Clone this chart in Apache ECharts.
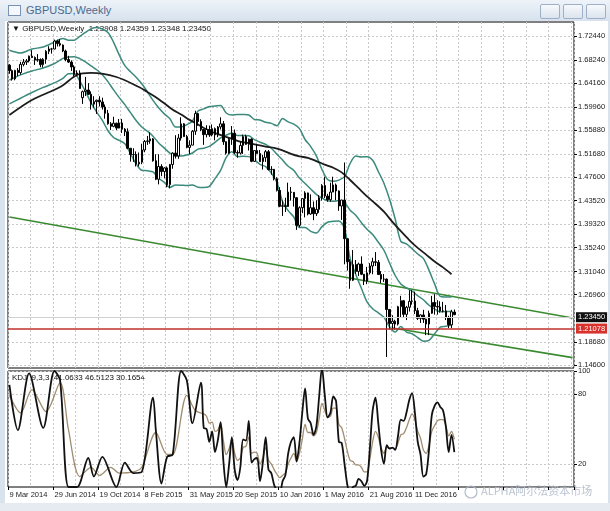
<!DOCTYPE html>
<html><head><meta charset="utf-8">
<script src="https://cdn.jsdelivr.net/npm/echarts@6/dist/echarts.min.js"></script>
<style>
html,body{margin:0;padding:0;width:610px;height:511px;overflow:hidden;background:#d9e3ee;font-family:"Liberation Sans",Arial,sans-serif;}
#titlebar{position:absolute;left:0;top:0;width:610px;height:21px;background:linear-gradient(#eef3f9,#d7e2ee);}
#ttl{position:absolute;left:26px;top:4px;font-size:11px;color:#4a6a90;}
#icon{position:absolute;left:8px;top:5px;width:11px;height:9px;border:1px solid #7a93b3;background:#f4f7fb;}
.btn{position:absolute;top:4px;width:18px;height:13px;border:1px solid #9fb0c6;border-radius:2px;background:linear-gradient(#f7f9fc,#dbe4ee);}
#area{position:absolute;left:5px;top:21px;width:603px;height:482px;background:#fff;}
#bottom{position:absolute;left:0;top:503px;width:610px;height:8px;background:#e6ebf1;}
#chart{position:absolute;left:0;top:0;width:610px;height:511px;}
</style></head><body>
<div id="titlebar"><div id="icon"></div><div id="ttl">GBPUSD,Weekly</div>
<div class="btn" style="left:540px"></div><div class="btn" style="left:563px"></div><div class="btn" style="left:586px"></div></div>
<div id="area"></div><div id="bottom"></div>
<div id="chart"></div>
<script>
// ---------- data ----------
const weekCount = 201; // weekly slots on the axis (candles + empty space to the right)
const dateTickLabels = ['9 Mar 2014','29 Jun 2014','19 Oct 2014','8 Feb 2015','31 May 2015','20 Sep 2015','10 Jan 2016','1 May 2016','21 Aug 2016','11 Dec 2016'];
const priceTicks = [1.72440,1.68240,1.64160,1.59960,1.55880,1.51680,1.47600,1.43520,1.39320,1.35240,1.31040,1.26960,1.18680,1.14600];
const kdjTicks = [100,80,20];
// weekly candles: [open, high, low, close]
const weeklyOHLC = [
[1.6730,1.6750,1.6580,1.6635],[1.6635,1.6655,1.6460,1.6490],[1.6490,1.6650,1.6465,1.6640],[1.6640,1.6680,1.6540,1.6600],
[1.6600,1.6790,1.6565,1.6745],[1.6745,1.6840,1.6710,1.6785],[1.6785,1.6840,1.6735,1.6805],[1.6805,1.6900,1.6780,1.6890],
[1.6890,1.6995,1.6860,1.6865],[1.6865,1.6885,1.6735,1.6820],[1.6820,1.6925,1.6790,1.6830],[1.6830,1.6850,1.6695,1.6740],
[1.6740,1.6855,1.6690,1.6835],[1.6835,1.6995,1.6755,1.6975],[1.6975,1.7065,1.6925,1.7015],[1.7015,1.7035,1.6935,1.7015],
[1.7015,1.7180,1.7010,1.7155],[1.7155,1.7180,1.7060,1.7110],[1.7110,1.7190,1.7060,1.7085],[1.7085,1.7095,1.6960,1.6980],
[1.6980,1.7005,1.6800,1.6830],[1.6830,1.6895,1.6770,1.6785],[1.6785,1.6815,1.6630,1.6700],[1.6700,1.6730,1.6535,1.6565],
[1.6565,1.6640,1.6535,1.6595],[1.6595,1.6640,1.6320,1.6320],[1.6160,1.6285,1.6050,1.6265],[1.6265,1.6525,1.6190,1.6295],
[1.6295,1.6415,1.6205,1.6220],[1.6220,1.6270,1.5950,1.6045],[1.6045,1.6185,1.5985,1.6090],[1.6090,1.6125,1.5875,1.6115],
[1.6115,1.6185,1.6005,1.6085],[1.6085,1.6160,1.5950,1.5995],[1.5995,1.6040,1.5790,1.5885],[1.5885,1.5945,1.5685,1.5700],
[1.5700,1.5730,1.5590,1.5655],[1.5655,1.5825,1.5640,1.5710],[1.5710,1.5720,1.5590,1.5625],[1.5625,1.5785,1.5620,1.5715],
[1.5715,1.5785,1.5540,1.5605],[1.5605,1.5625,1.5485,1.5560],[1.5560,1.5620,1.5255,1.5270],[1.5270,1.5275,1.5035,1.5160],
[1.5160,1.5270,1.5030,1.5160],[1.5160,1.5215,1.4950,1.4995],[1.4995,1.5195,1.4950,1.5025],[1.5025,1.5350,1.4990,1.5240],
[1.5240,1.5415,1.5200,1.5390],[1.5390,1.5485,1.5330,1.5400],[1.5400,1.5550,1.5350,1.5435],[1.5435,1.5450,1.5035,1.5050],
[1.5050,1.5165,1.4710,1.4725],[1.4725,1.5165,1.4635,1.4950],[1.4950,1.4990,1.4780,1.4860],[1.4860,1.4935,1.4740,1.4925],
[1.4925,1.4950,1.4585,1.4630],[1.4630,1.4995,1.4565,1.4985],[1.4985,1.5200,1.4910,1.5185],[1.5185,1.5500,1.5090,1.5135],
[1.5135,1.5520,1.5085,1.5450],[1.5450,1.5815,1.5405,1.5700],[1.5700,1.5710,1.5470,1.5475],[1.5475,1.5505,1.5270,1.5285],
[1.5285,1.5410,1.5170,1.5325],[1.5325,1.5590,1.5325,1.5570],[1.5570,1.5930,1.5505,1.5880],[1.5880,1.5890,1.5665,1.5740],
[1.5740,1.5780,1.5570,1.5600],[1.5600,1.5605,1.5330,1.5510],[1.5510,1.5675,1.5460,1.5600],[1.5600,1.5670,1.5470,1.5505],
[1.5505,1.5690,1.5480,1.5615],[1.5615,1.5635,1.5410,1.5505],[1.5505,1.5660,1.5465,1.5645],[1.5645,1.5815,1.5600,1.5700],
[1.5700,1.5750,1.5330,1.5385],[1.5385,1.5390,1.5160,1.5185],[1.5185,1.5450,1.5170,1.5430],[1.5430,1.5660,1.5330,1.5535],
[1.5535,1.5600,1.5170,1.5195],[1.5195,1.5235,1.5105,1.5185],[1.5185,1.5385,1.5160,1.5320],[1.5320,1.5510,1.5170,1.5475],
[1.5475,1.5510,1.5330,1.5340],[1.5340,1.5440,1.5230,1.5430],[1.5430,1.5445,1.5025,1.5040],[1.5040,1.5235,1.5030,1.5230],
[1.5230,1.5335,1.5170,1.5180],[1.5180,1.5240,1.5030,1.5035],[1.5035,1.5155,1.4895,1.5105],[1.5105,1.5240,1.5030,1.5210],
[1.5210,1.5240,1.4880,1.4895],[1.4895,1.4955,1.4805,1.4900],[1.4900,1.4905,1.4705,1.4735],[1.4735,1.4760,1.4510,1.4530],
[1.4530,1.4585,1.4235,1.4250],[1.4250,1.4350,1.4080,1.4260],[1.4260,1.4400,1.4150,1.4245],[1.4245,1.4665,1.4240,1.4500],
[1.4500,1.4590,1.4350,1.4495],[1.4495,1.4500,1.4245,1.4400],[1.4400,1.4410,1.3835,1.3915],[1.3915,1.4250,1.3880,1.4225],
[1.4225,1.4385,1.4130,1.4385],[1.4385,1.4515,1.4055,1.4485],[1.4485,1.4490,1.4090,1.4115],[1.4115,1.4460,1.4100,1.4225],
[1.4225,1.4335,1.4005,1.4120],[1.4120,1.4355,1.4080,1.4195],[1.4195,1.4445,1.4135,1.4400],[1.4400,1.4640,1.4350,1.4615],
[1.4615,1.4770,1.4395,1.4430],[1.4430,1.4470,1.4330,1.4365],[1.4365,1.4665,1.4330,1.4500],[1.4500,1.4770,1.4500,1.4625],
[1.4625,1.4650,1.4355,1.4520],[1.4520,1.4530,1.4170,1.4255],[1.4255,1.4365,1.4010,1.4360],[1.4360,1.5020,1.3230,1.3680],
[1.3680,1.3680,1.3120,1.3275],[1.3275,1.3320,1.2800,1.2950],[1.2950,1.3480,1.2935,1.3225],[1.3225,1.3305,1.3060,1.3105],
[1.3105,1.3260,1.3025,1.3235],[1.3235,1.3370,1.3040,1.3055],[1.3055,1.3060,1.2865,1.2935],[1.2935,1.3185,1.2880,1.3080],
[1.3080,1.3250,1.3050,1.3200],[1.3200,1.3345,1.3055,1.3275],[1.3275,1.3445,1.3200,1.3265],[1.3265,1.3305,1.3050,1.3050],
[1.3050,1.3110,1.2900,1.2970],[1.2970,1.3060,1.2920,1.2970],[1.2970,1.2980,1.1600,1.2435],[1.2435,1.2445,1.2085,1.2190],
[1.2190,1.2335,1.2080,1.2230],[1.2230,1.2255,1.2080,1.2180],[1.2180,1.2500,1.2155,1.2485],[1.2485,1.2675,1.2300,1.2590],
[1.2590,1.2600,1.2300,1.2350],[1.2350,1.2500,1.2250,1.2475],[1.2475,1.2775,1.2400,1.2580],[1.2580,1.2775,1.2520,1.2585],
[1.2585,1.2750,1.2355,1.2415],[1.2415,1.2465,1.2250,1.2280],[1.2280,1.2350,1.2200,1.2340],[1.2340,1.2430,1.2200,1.2265],
[1.2265,1.2275,1.1985,1.2180],[1.2180,1.2415,1.1985,1.2370],[1.2370,1.2675,1.2360,1.2560],[1.2560,1.2705,1.2345,1.2490],
[1.2490,1.2600,1.2345,1.2480],[1.2480,1.2580,1.2380,1.2410],[1.2410,1.2570,1.2385,1.2410],[1.2410,1.2515,1.2250,1.2295],
[1.2295,1.2325,1.2110,1.2165],[1.2165,1.2430,1.2110,1.2395],[1.2391,1.2436,1.2335,1.2345]
];
// indicator lines as [week index, value]
const bandUpper = [[0,1.6994],[4,1.6945],[8,1.7015],[12,1.7050],[16,1.7138],[19,1.7202],[21,1.7170],[23,1.7170],[25,1.7239],[27,1.7308],[29,1.7369],[31,1.7394],[33,1.7367],[35,1.7304],[37,1.7133],[39,1.6911],[41,1.6723],[43,1.6615],[45,1.6518],[47,1.6403],[49,1.6263],[51,1.6112],[53,1.5982],[55,1.5875],[57,1.5789],[59,1.5644],[61,1.5646],[63,1.5685],[65,1.5750],[67,1.5926],[69,1.5962],[71,1.6003],[73,1.6012],[75,1.6023],[77,1.5891],[79,1.5854],[81,1.5865],[83,1.5863],[85,1.5855],[87,1.5776],[89,1.5766],[91,1.5728],[93,1.5708],[95,1.5667],[97,1.5793],[99,1.5733],[101,1.5695],[103,1.5616],[105,1.5424],[107,1.5300],[109,1.5137],[111,1.4897],[113,1.4720],[115,1.4690],[117,1.4710],[119,1.4771],[121,1.5004],[123,1.5133],[125,1.5117],[127,1.5122],[129,1.5059],[131,1.4862],[133,1.4655],[135,1.4375],[137,1.4026],[139,1.3634],[141,1.3591],[143,1.3505],[145,1.3411],[147,1.3335],[149,1.3127],[151,1.2886],[153,1.2665],[155,1.2656],[157,1.2655]];
const bandMiddle = [[0,1.6470],[4,1.6560],[8,1.6630],[12,1.6680],[16,1.6760],[19,1.6851],[21,1.6875],[23,1.6877],[25,1.6846],[27,1.6789],[29,1.6718],[31,1.6650],[33,1.6563],[35,1.6441],[37,1.6296],[39,1.6160],[41,1.6037],[43,1.5896],[45,1.5758],[47,1.5643],[49,1.5569],[51,1.5483],[53,1.5363],[55,1.5273],[57,1.5185],[59,1.5134],[61,1.5134],[63,1.5150],[65,1.5187],[67,1.5255],[69,1.5271],[71,1.5302],[73,1.5374],[75,1.5452],[77,1.5500],[79,1.5532],[81,1.5494],[83,1.5495],[85,1.5489],[87,1.5421],[89,1.5377],[91,1.5337],[93,1.5271],[95,1.5167],[97,1.5064],[99,1.4953],[101,1.4879],[103,1.4746],[105,1.4651],[107,1.4555],[109,1.4460],[111,1.4395],[113,1.4345],[115,1.4337],[117,1.4351],[119,1.4315],[121,1.4182],[123,1.4091],[125,1.3962],[127,1.3846],[129,1.3754],[131,1.3619],[133,1.3477],[135,1.3252],[137,1.3033],[139,1.2885],[141,1.2815],[143,1.2757],[145,1.2677],[147,1.2607],[149,1.2510],[151,1.2447],[153,1.2395],[155,1.2399],[157,1.2406]];
const bandLower = [[0,1.6050],[4,1.6150],[8,1.6250],[12,1.6340],[16,1.6420],[19,1.6499],[21,1.6581],[23,1.6583],[25,1.6452],[27,1.6270],[29,1.6067],[31,1.5906],[33,1.5760],[35,1.5578],[37,1.5459],[39,1.5408],[41,1.5351],[43,1.5176],[45,1.4997],[47,1.4883],[49,1.4875],[51,1.4854],[53,1.4743],[55,1.4670],[57,1.4582],[59,1.4625],[61,1.4621],[63,1.4615],[65,1.4624],[67,1.4584],[69,1.4579],[71,1.4600],[73,1.4736],[75,1.4881],[77,1.5108],[79,1.5210],[81,1.5122],[83,1.5128],[85,1.5123],[87,1.5067],[89,1.4987],[91,1.4947],[93,1.4834],[95,1.4667],[97,1.4335],[99,1.4173],[101,1.4062],[103,1.3876],[105,1.3878],[107,1.3809],[109,1.3782],[111,1.3892],[113,1.3969],[115,1.3985],[117,1.3992],[119,1.3860],[121,1.3335],[123,1.3050],[125,1.2808],[127,1.2571],[129,1.2450],[131,1.2376],[133,1.2298],[135,1.2128],[137,1.2040],[139,1.2136],[141,1.2039],[143,1.2009],[145,1.1943],[147,1.1878],[149,1.1893],[151,1.2008],[153,1.2124],[155,1.2141],[157,1.2157]];
const maSlow = [[0,1.5855],[8,1.6119],[18,1.6347],[24,1.6558],[29,1.6594],[38,1.6523],[46,1.6347],[49,1.6260],[52,1.6169],[55,1.6061],[58,1.5946],[61,1.5864],[64,1.5769],[67,1.5687],[70,1.5604],[73,1.5535],[76,1.5486],[79,1.5438],[82,1.5386],[85,1.5360],[88,1.5329],[91,1.5298],[94,1.5277],[97,1.5233],[100,1.5173],[103,1.5129],[106,1.5101],[109,1.5045],[112,1.4982],[115,1.4928],[118,1.4846],[121,1.4712],[124,1.4568],[127,1.4424],[130,1.4295],[133,1.4156],[136,1.3977],[139,1.3813],[142,1.3657],[145,1.3519],[148,1.3400],[151,1.3280],[154,1.3176],[157,1.3056]];
const channelUpper = [[0,1.4062],[200,1.2286]];
const channelLower = [[136,1.2110],[200,1.1590]];
const supportLevel = 1.21078;
const lastPrice = 1.23450;
const kdjJ = [[0,88],[3,49],[7,98],[12,51],[16,100],[18,92],[21,0],[24,0],[28,25],[30,9],[33,26],[38,0],[41,21],[44,12],[47,13],[51,77],[52,49],[54,3],[56,26],[58,28],[61,100],[63,92],[65,55],[68,90],
[69,51],[70,50],[71,39],[72,48],[73,30],[74,40],[75,56],[76,22],[77,0],[78,19],[79,43],[80,15],[81,6],[82,17],[83,41],[84,40],[85,57],[86,21],[87,24],[88,25],[89,5],[90,21],[91,43],[92,15],[93,12],[94,2],[95,-3],[96,-6],[97,5],[98,10],[99,29],[100,39],[101,43],[102,22],[103,38],[104,64],[105,85],[106,59],[107,55],[108,45],[109,52],[110,78],[111,103],[112,79],[113,60],[114,64],[115,78],[116,74],[117,39],[118,38],[119,20],[120,2],[121,-7],[122,0],[123,1],[124,7],[125,5],[126,1],[127,5],[128,33],[129,66],[130,77],[131,55],[132,32],[133,20],[134,36],[135,33],[136,34],[137,32],[138,44],[139,58],[140,57],[141,64],[142,75],[143,81],[144,64],[145,39],[146,28],[147,9],[148,11],[149,32],[150,62],[151,70],[152,73],[153,69],[154,66],[155,52],[156,30],[157,45],[158,30]];
const kdjK = [[0,79],[4,64],[8,84],[13,65],[18,90],[21,49],[25,9],[29,17],[32,10],[36,17],[39,12],[44,13],[47,17],[52,47],[56,28],[58,28],[63,79],[66,66],
[69,63],[70,61],[71,55],[72,56],[73,48],[74,49],[75,55],[76,40],[77,28],[78,33],[79,41],[80,29],[81,23],[82,25],[83,34],[84,35],[85,43],[86,29],[87,30],[88,29],[89,20],[90,25],[91,34],[92,23],[93,20],[94,15],[95,11],[96,8],[97,10],[98,12],[99,20],[100,25],[101,29],[102,22],[103,29],[104,41],[105,54],[106,47],[107,47],[108,44],[109,47],[110,59],[111,72],[112,66],[113,60],[114,61],[115,68],[116,68],[117,54],[118,51],[119,42],[120,31],[121,23],[122,22],[123,19],[124,19],[125,17],[126,13],[127,13],[128,24],[129,39],[130,48],[131,43],[132,34],[133,29],[134,34],[135,34],[136,34],[137,33],[138,38],[139,45],[140,46],[141,51],[142,58],[143,63],[144,58],[145,48],[146,42],[147,32],[148,29],[149,36],[150,48],[151,53],[152,57],[153,58],[154,58],[155,53],[156,44],[157,48],[158,41]];

// ---------- chart ----------
const categories = Array.from({length: weekCount}, (_, i) => String(i));
const candleData = weeklyOHLC.map(r => [r[0], r[3], r[2], r[1]]);
const chart = echarts.init(document.getElementById('chart'));
const lbl = {color:'#222', fontSize:7.5, fontFamily:'"Liberation Sans", Arial, sans-serif'};
const gridLine = {show:true, lineStyle:{color:'#c9c9c9', type:[2,2], width:1}};
const left = 8, right = 36;
const lineS = (data, color, w, xi, yi) => ({type:'line', data, xAxisIndex:xi||0, yAxisIndex:yi||0, symbol:'none', smooth:0.3, lineStyle:{color, width:w}, silent:true, z:3});
chart.setOption({
  animation:false,
  grid:[{left, right, top:22, height:346, show:true, borderColor:'#000', borderWidth:1},
        {left, right, top:371, height:116, show:true, borderColor:'#000', borderWidth:1}],
  xAxis:[
    {type:'category', data:categories, gridIndex:0, axisLine:{show:false}, axisTick:{show:false}, axisLabel:{show:false},
     splitLine:{...gridLine, interval:(i)=>i%8===0}},
    {type:'category', data:categories, gridIndex:1, axisLine:{show:false},
     axisTick:{show:true, interval:(i)=>i%16===0, length:3, lineStyle:{color:'#000'}},
     axisLabel:{...lbl, interval:(i)=>i%16===0, showMinLabel:true, align:'left', margin:4, formatter:(v, i)=>dateTickLabels[i/16]||''},
     splitLine:{...gridLine, interval:(i)=>i%8===0}}
  ],
  yAxis:[
    {type:'value', gridIndex:0, position:'right', min:1.1407, max:1.7490, axisLine:{show:false},
     axisTick:{show:true, length:3, customValues:priceTicks, lineStyle:{color:'#000'}},
     axisLabel:{...lbl, margin:4, customValues:priceTicks, formatter:v=>v.toFixed(5)},
     splitLine:gridLine},
    {type:'value', gridIndex:1, position:'right', min:0, max:100, axisLine:{show:false},
     axisTick:{show:true, length:3, customValues:kdjTicks, lineStyle:{color:'#000'}},
     axisLabel:{...lbl, margin:4, customValues:kdjTicks, formatter:v=>String(v)},
     splitLine:gridLine}
  ],
  series:[
    lineS(bandUpper,'#3b8a7c',1.5), lineS(bandMiddle,'#3b8a7c',1.5), lineS(bandLower,'#3b8a7c',1.5),
    lineS(maSlow,'#1c1c1c',1.8),
    {type:'line', data:channelUpper, symbol:'none', lineStyle:{color:'#3a8a30', width:1.6}, silent:true, z:2},
    {type:'line', data:channelLower, symbol:'none', lineStyle:{color:'#3a8a30', width:1.6}, silent:true, z:2,
     markLine:{symbol:'none', silent:true, data:[
       {yAxis:supportLevel, lineStyle:{color:'#c0302c', width:1.6, type:'solid'},
        label:{position:'end', distance:2, formatter:()=>supportLevel.toFixed(5), color:'#fff', backgroundColor:'#d8322c', padding:[1,2], fontSize:7.5, fontFamily:'"Liberation Sans", Arial, sans-serif'}},
       {yAxis:lastPrice, lineStyle:{color:'#d0d0d0', width:1, type:'solid'},
        label:{position:'end', distance:2, formatter:()=>lastPrice.toFixed(5), color:'#fff', backgroundColor:'#111', padding:[1,2], fontSize:7.5, fontFamily:'"Liberation Sans", Arial, sans-serif'}}
     ]}},
    {type:'candlestick', data:candleData, barWidth:2, z:4,
     itemStyle:{color:'#fff', color0:'#000', borderColor:'#000', borderColor0:'#000', borderWidth:1}},
    lineS(kdjK,'#a08c6e',1.3,1,1), lineS(kdjJ,'#111',1.8,1,1)
  ],
  graphic:[
    {type:'text', left:12, top:25, style:{text:'▼ GBPUSD,Weekly  1.23908 1.24359 1.23348 1.23450', fontSize:8, fill:'#111', fontFamily:'"Liberation Sans", Arial, sans-serif'}},
    {type:'text', left:12, top:374, style:{text:'KDJ  9,3,3  41.0633 46.5123 30.1654', fontSize:8, fill:'#111', fontFamily:'"Liberation Sans", Arial, sans-serif'}},
    {type:'circle', shape:{cx:471, cy:492, r:6}, style:{fill:'none', stroke:'rgba(170,180,196,0.9)', lineWidth:1.2}},
    {type:'text', left:481, top:485, style:{text:'ALPHA阿尔法资本市场', fontSize:11, fill:'rgba(175,185,200,0.85)', fontFamily:'"Noto Sans CJK SC", sans-serif'}}
  ]
});
</script>
</body></html>
